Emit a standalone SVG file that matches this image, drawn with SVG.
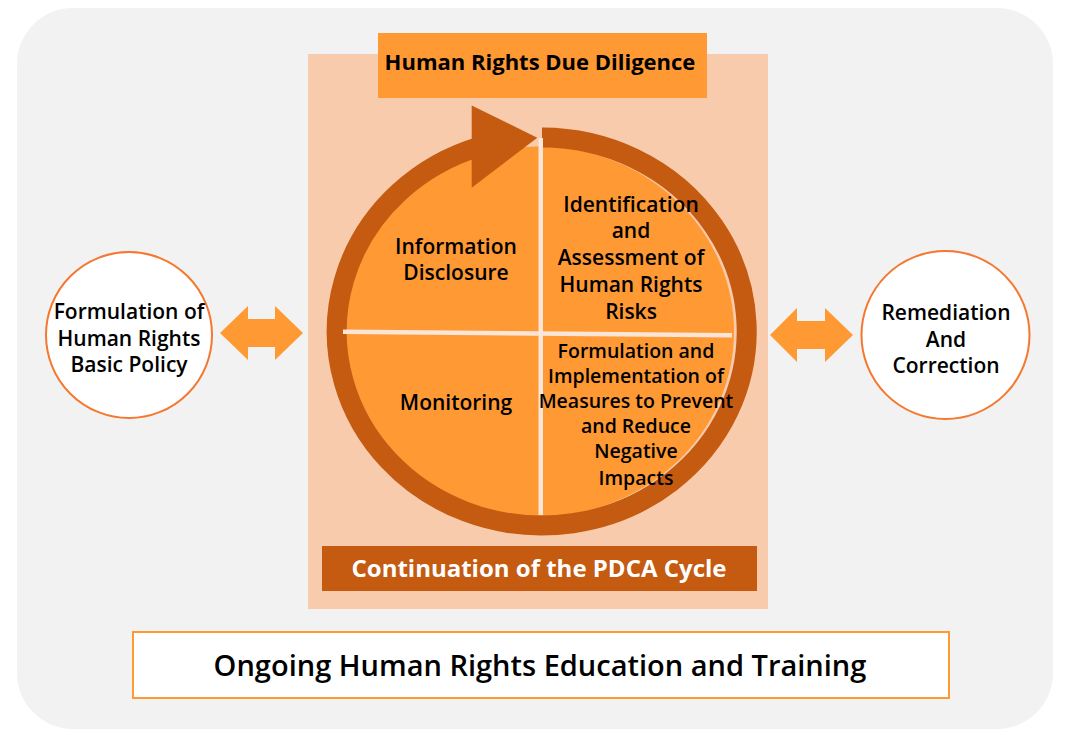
<svg xmlns="http://www.w3.org/2000/svg" width="1065" height="737" viewBox="0 0 1065 737">
<style>
.t{font-family:"Open Sans","Noto Sans","Liberation Sans",sans-serif;fill:#000;text-anchor:middle}
.q{font-size:21px;font-weight:600}
.q2{font-size:19.5px;font-weight:600}
.c{font-size:21px;font-weight:600}
.ring{fill:none;stroke:#C55A11;stroke-width:20}
.div{fill:#FBE5D6}
.side{fill:#fff;stroke:#F4782F;stroke-width:2}
.dbl{fill:#FF9933}
</style>
<rect x="17" y="8" width="1036" height="721" rx="56" ry="56" fill="#F2F2F2"/>
<g id="due-diligence-panel">
<rect x="308" y="54" width="460" height="555" fill="#F8CBAD"/>
</g>
<g id="title">
<rect x="378" y="33" width="329" height="65" fill="#FF9933"/>
<text class="t" x="540" y="70" font-size="22" font-weight="700">Human Rights Due Diligence</text>
</g>
<g id="cycle">
<ellipse cx="538" cy="331.5" rx="196" ry="185" fill="#FF9933"/>
<path class="ring" d="M 542 137.5 A 205 194 0 1 1 480 146.5"/>
<polygon points="471.7,105.5 471.7,187.7 537.3,137.7" fill="#C55A11"/>
<rect class="div" x="538.5" y="138" width="4.5" height="377"/>
<polygon class="div" points="343,329.5 732,333 732,337.5 343,334" />
</g>
<g id="info-disclosure">
<text class="t q" x="456" y="254">Information</text>
<text class="t q" x="456" y="280">Disclosure</text>
</g>
<g id="identification">
<text class="t q" x="631" y="212">Identification</text>
<text class="t q" x="631" y="238">and</text>
<text class="t q" x="631" y="265">Assessment of</text>
<text class="t q" x="631" y="292">Human Rights</text>
<text class="t q" x="631" y="319">Risks</text>
</g>
<g id="monitoring">
<text class="t q" x="456" y="410">Monitoring</text>
</g>
<g id="measures">
<text class="t q2" x="636" y="358">Formulation and</text>
<text class="t q2" x="636" y="383">Implementation of</text>
<text class="t q2" x="636" y="408">Measures to Prevent</text>
<text class="t q2" x="636" y="433">and Reduce</text>
<text class="t q2" x="636" y="458">Negative</text>
<text class="t q2" x="636" y="484.5">Impacts</text>
</g>
<g id="pdca">
<rect x="322" y="546" width="435" height="45" fill="#C55A11"/>
<text class="t" x="539" y="577" font-size="24" font-weight="700" style="fill:#fff">Continuation of the PDCA Cycle</text>
</g>
<g id="basic-policy">
<circle class="side" cx="129" cy="335" r="83"/>
<text class="t c" x="129" y="319">Formulation of</text>
<text class="t c" x="129" y="346">Human Rights</text>
<text class="t c" x="129" y="372">Basic Policy</text>
</g>
<g id="remediation">
<circle class="side" cx="945.5" cy="335" r="84"/>
<text class="t c" x="946" y="320">Remediation</text>
<text class="t c" x="946" y="347">And</text>
<text class="t c" x="946" y="373">Correction</text>
</g>
<g id="connectors">
<polygon class="dbl" points="220,333 248,306 248,319 275,319 275,306 303,333 275,360 275,347 248,347 248,360"/>
<polygon class="dbl" points="770,335 797,308 797,321 825,321 825,308 853,335 825,362 825,349 797,349 797,362"/>
</g>
<g id="education">
<rect x="133" y="632" width="816" height="66" fill="#fff" stroke="#FF9933" stroke-width="2"/>
<text class="t" x="540" y="676" font-size="29" font-weight="600">Ongoing Human Rights Education and Training</text>
</g>
</svg>
